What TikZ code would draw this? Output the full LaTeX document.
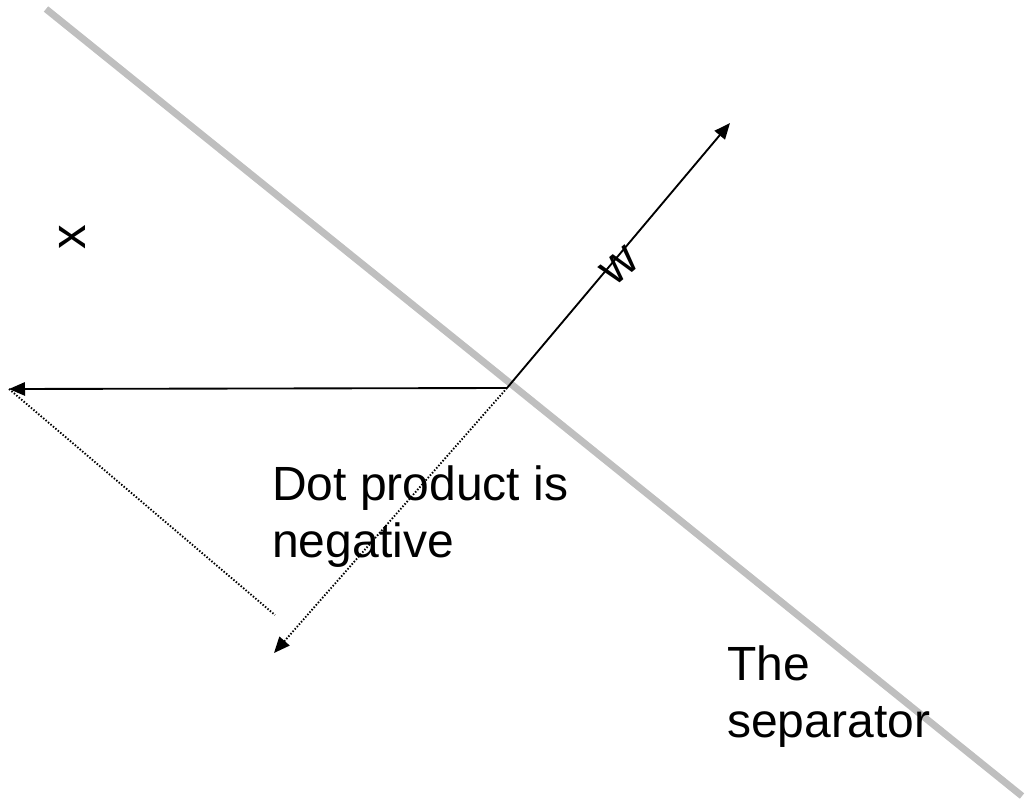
\documentclass[tikz,border=0pt]{standalone}
\usepackage{fontspec}
\setmainfont{Liberation Sans}
\usetikzlibrary{arrows.meta}
\begin{document}
\begin{tikzpicture}[x=0.75pt,y=-0.75pt,
  sep/.style={line width=5.2pt,draw=black!25},
  vec/.style={line width=1.4pt,-{Triangle[length=12pt,width=10pt]}},
  dotvec/.style={line width=1.4pt,dash pattern=on 1.1pt off 1.3pt,-{Triangle[length=12pt,width=10pt]}},
  dotline/.style={line width=1.4pt,dash pattern=on 1.1pt off 1.3pt},
  lbl/.style={font=\fontsize{36}{42.75}\selectfont,inner sep=0pt,align=left,anchor=base west}]
\useasboundingbox (0,0) rectangle (1025,807);
\coordinate (S1) at (46,9);
\coordinate (S2) at (1022,796);
\coordinate (O) at (507,388);
\coordinate (W) at (730,123);
\coordinate (X) at (9,389);
\coordinate (P) at (274,653);
\coordinate (D) at (275,615);
\draw[sep] (S1) -- (S2);
\draw[vec] (O) -- (W);
\draw[vec] (O) -- (X);
\draw[dotvec] (O) -- (P);
\draw[dotline] (X) -- (D);
\node[font=\fontsize{37}{42.75}\selectfont,rotate=90] (xl) at (72,237) {x};
\node[font=\fontsize{37}{42.75}\selectfont,rotate=40] (wl) at (620,266) {w};
\node[lbl] (dot) at (272,557) {Dot product is\\negative};
\node[lbl] (sepl) at (727,737) {The\\separator};
\end{tikzpicture}
\end{document}
